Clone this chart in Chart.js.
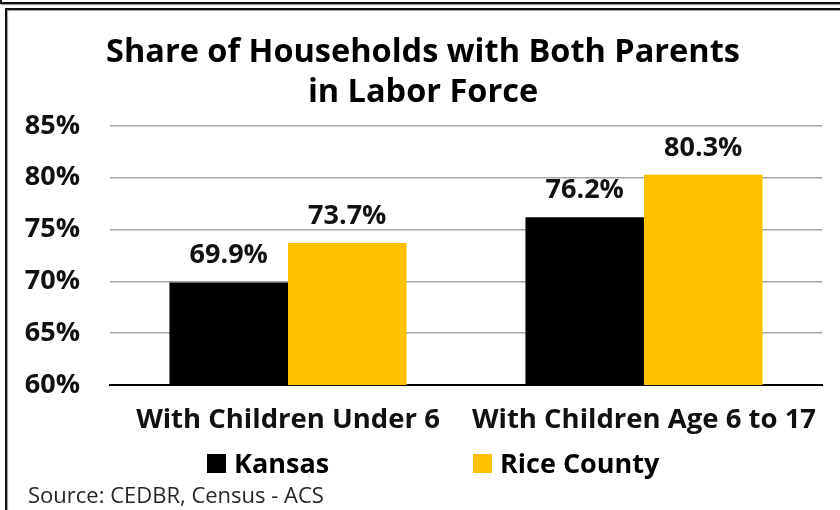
<!DOCTYPE html>
<html>
<head>
<meta charset="utf-8">
<script src="https://cdn.jsdelivr.net/npm/chart.js@4.4.0/dist/chart.umd.min.js"></script>
<style>
  html, body { margin: 0; padding: 0; background: #fff; }
  #wrap { position: relative; width: 840px; height: 510px; overflow: hidden; }
  #prev { position: absolute; left: 0; top: -10px; width: 850px; height: 12px; border: 2px solid #111; border-top: none; box-shadow: 1px 1px 1px #999; }
  #box { position: absolute; left: 5px; top: 8px; width: 850px; height: 520px; border-left: 2px solid #111; border-top: 2px solid #111; box-shadow: 1px 1px 1px #999 inset; }
  canvas { position: absolute; left: 0; top: 0; }
</style>
</head>
<body>
<div id="wrap">
  <div id="prev"></div>
  <div id="box"></div>
  <canvas id="graph" width="840" height="510"></canvas>
</div>
<script>
// Données
const categories = ['With Children Under 6', 'With Children Age 6 to 17'];
const kansas = [69.9, 76.2];
const riceCounty = [73.7, 80.3];
const seriesNames = ['Kansas', 'Rice County'];
const seriesColors = ['#000000', '#FFC000'];
const yTicks = [60, 65, 70, 75, 80, 85];

const FONT = '"Open Sans"';

// Étiquettes de valeur au-dessus des barres
const valueLabels = {
  id: 'valueLabels',
  afterDatasetsDraw(chart) {
    const ctx = chart.ctx;
    ctx.save();
    ctx.font = 'bold 27px ' + FONT;
    ctx.fillStyle = '#111';
    ctx.textAlign = 'center';
    ctx.textBaseline = 'alphabetic';
    chart.data.datasets.forEach((ds, i) => {
      chart.getDatasetMeta(i).data.forEach((bar, j) => {
        ctx.fillText(ds.data[j].toFixed(1) + '%', bar.x, bar.y - 19);
      });
    });
    ctx.restore();
  }
};

// Légende et source dessinées en bas
const bottomText = {
  id: 'bottomText',
  afterDraw(chart) {
    const ctx = chart.ctx;
    ctx.save();
    const legendX = [207, 473];
    ctx.font = 'bold 27px ' + FONT;
    ctx.textBaseline = 'alphabetic';
    ctx.textAlign = 'left';
    chart.data.datasets.forEach((ds, i) => {
      ctx.fillStyle = ds.backgroundColor;
      ctx.fillRect(legendX[i], 454, 19, 19);
      ctx.fillStyle = '#000';
      ctx.fillText(ds.label, legendX[i] + 27, 473);
    });
    ctx.font = '22px ' + FONT;
    ctx.fillStyle = '#262626';
    ctx.fillText('Source: CEDBR, Census - ACS', 28, 503);
    ctx.restore();
  }
};

const chart = new Chart(document.getElementById('graph').getContext('2d'), {
  type: 'bar',
  data: {
    labels: categories,
    datasets: [
      { label: seriesNames[0], data: kansas, backgroundColor: seriesColors[0] },
      { label: seriesNames[1], data: riceCounty, backgroundColor: seriesColors[1] }
    ]
  },
  options: {
    responsive: false,
    animation: false,
    devicePixelRatio: 1,
    layout: { padding: { left: 24, right: 18, top: 14, bottom: 54 } },
    datasets: { bar: { categoryPercentage: 0.666, barPercentage: 1 } },
    scales: {
      y: {
        min: 60, max: 85,
        afterBuildTicks: axis => { axis.ticks = yTicks.map(v => ({ value: v })); },
        afterFit: axis => { axis.width = 86; },
        ticks: {
          callback: v => v + '%',
          font: { family: 'Open Sans', weight: 'bold', size: 27 },
          color: '#111',
          padding: 30
        },
        grid: { color: '#a6a6a6', lineWidth: 1.5, drawTicks: false },
        border: { display: false }
      },
      x: {
        afterFit: axis => { axis.paddingLeft = 0; axis.paddingRight = 0; },
        ticks: {
          font: { family: 'Open Sans', weight: 'bold', size: 27.5 },
          color: '#111',
          padding: 19
        },
        grid: { display: false, drawTicks: false },
        border: { color: '#000', width: 2 }
      }
    },
    plugins: {
      legend: { display: false },
      tooltip: { enabled: false },
      title: {
        display: true,
        text: ['Share of Households with Both Parents', 'in Labor Force'],
        font: { family: 'Open Sans', weight: 'bold', size: 32.5, lineHeight: 1.23 },
        color: '#000',
        padding: { top: 19, bottom: 13 }
      }
    }
  },
  plugins: [valueLabels, bottomText]
});
</script>
</body>
</html>
